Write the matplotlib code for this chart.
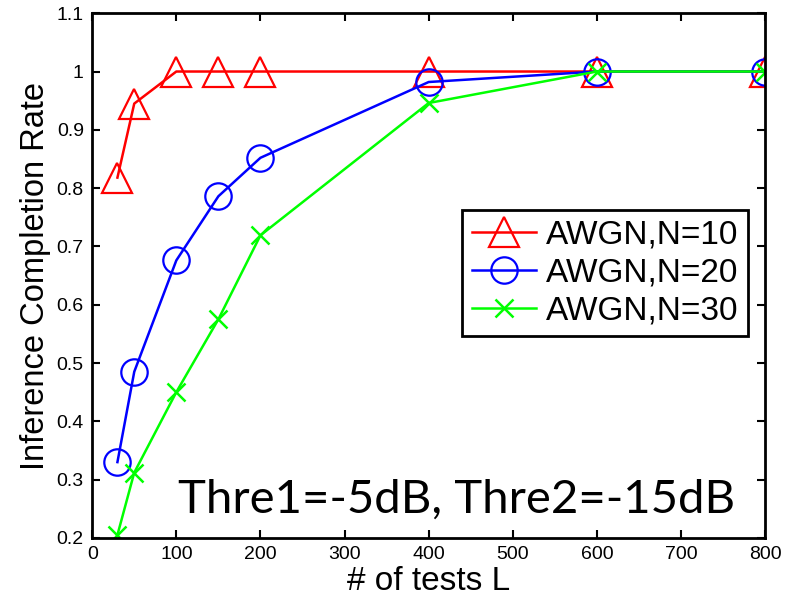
import matplotlib
matplotlib.use('Agg')
import matplotlib.pyplot as plt

# values
tests_L = [30, 50, 100, 150, 200, 400, 600, 800]
rate_n10 = [0.818, 0.945, 1.0, 1.0, 1.0, 1.0, 1.0, 1.0]
rate_n20 = [0.33, 0.485, 0.676, 0.786, 0.852, 0.982, 1.0, 1.0]
rate_n30 = [0.205, 0.312, 0.45, 0.575, 0.719, 0.946, 1.0, 1.0]

labels = ['AWGN,N=10', 'AWGN,N=20', 'AWGN,N=30']
note = 'Thre1=-5dB, Thre2=-15dB'

plt.rcParams['font.family'] = ['Liberation Sans', 'DejaVu Sans']

fig = plt.figure(figsize=(7.88, 6.01), dpi=100)
ax = fig.add_axes([0.117, 0.105, 0.854, 0.873])

ax.plot(tests_L, rate_n10, color='#ff0000', marker='^', markersize=21,
        markerfacecolor='none', markeredgewidth=1.6, linewidth=1.8, label=labels[0])
ax.plot(tests_L, rate_n20, color='#0000ff', marker='o', markersize=19,
        markerfacecolor='none', markeredgewidth=1.6, linewidth=1.8, label=labels[1])
ax.plot(tests_L, rate_n30, color='#00ff00', marker='x', markersize=13,
        markeredgewidth=1.8, linewidth=1.8, label=labels[2])

ax.set_xlim(0, 800)
ax.set_ylim(0.2, 1.1)
ax.set_xticks(range(0, 801, 100))
ax.set_yticks([0.2, 0.3, 0.4, 0.5, 0.6, 0.7, 0.8, 0.9, 1.0, 1.1])
ax.set_yticklabels(['0.2', '0.3', '0.4', '0.5', '0.6', '0.7', '0.8', '0.9', '1', '1.1'])
ax.tick_params(direction='in', length=6, width=1.5, labelsize=14,
               top=True, right=True, pad=6)
for s in ax.spines.values():
    s.set_linewidth(2)

ax.set_xlabel('# of tests L', fontsize=24, labelpad=2)
ax.set_ylabel('Inference Completion Rate', fontsize=23.5, labelpad=4)

ax.text(102, 0.243, note, fontsize=34, family=['Lato', 'DejaVu Sans'],
        ha='left', va='baseline')

leg = ax.legend(loc='upper left', bbox_to_anchor=(0.55, 0.625), fontsize=24,
                frameon=True, fancybox=False, edgecolor='black', framealpha=1,
                borderpad=0.3, labelspacing=0.2, handlelength=1.9,
                handletextpad=0.3, borderaxespad=0)
leg.get_frame().set_linewidth(2)

fig.savefig('out.png', dpi=100)
